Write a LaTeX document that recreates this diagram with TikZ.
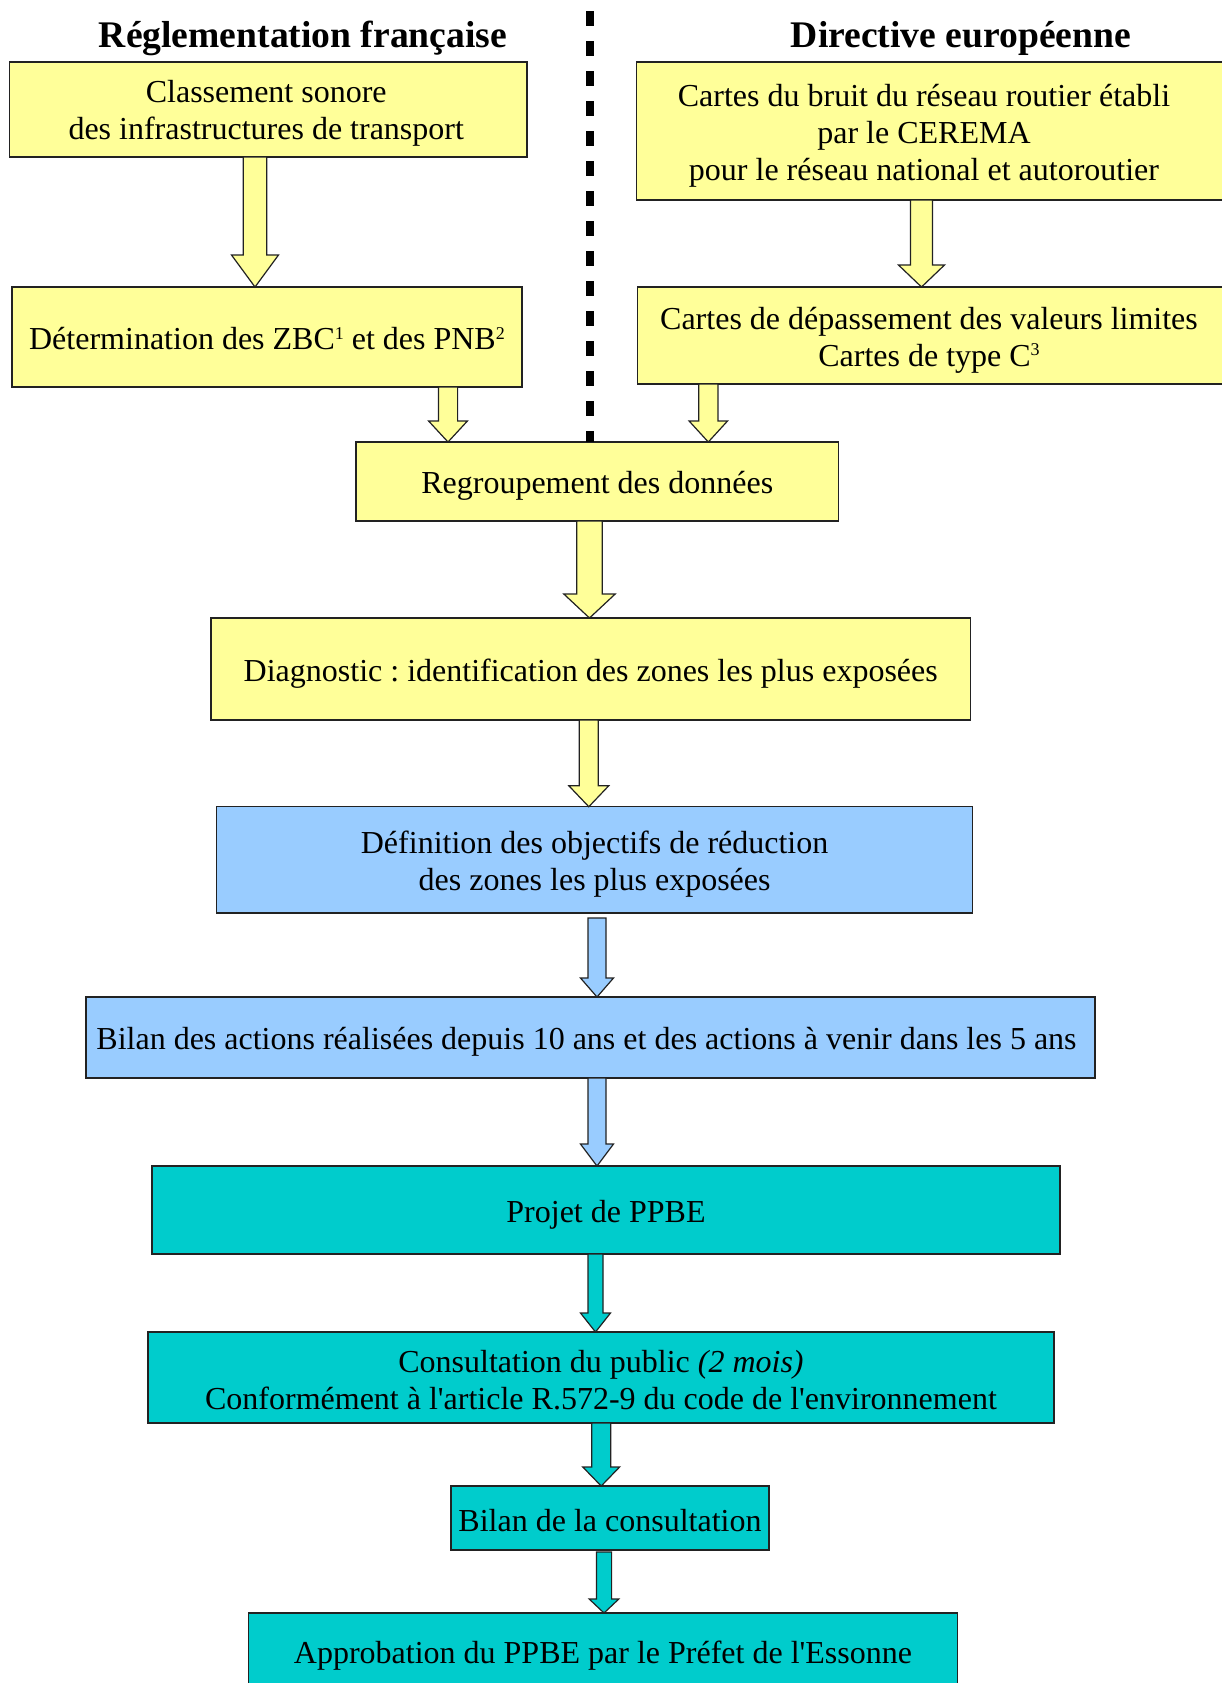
\documentclass[tikz,border=0pt]{standalone}
\usepackage{fontspec}
\setmainfont{Liberation Serif}
\usetikzlibrary{calc}
\definecolor{ylw}{HTML}{FFFF99}
\definecolor{blu}{HTML}{99CCFF}
\definecolor{tea}{HTML}{00CCCC}
\definecolor{edge}{HTML}{222222}
\newcommand\sups[1]{\raisebox{0.32em}{\fontsize{9}{9}\selectfont #1}}
\newcommand\apos{\textquotesingle}
\tikzset{
 boxbase/.style={draw=edge,line width=0.6pt,inner sep=0pt,outer sep=0pt,rectangle},
 ybox/.style={boxbase,fill=ylw},
 bbox/.style={boxbase,fill=blu},
 tbox/.style={boxbase,fill=tea},
 btxt/.style={font=\fontsize{16}{18.5}\selectfont\frenchspacing,align=center,inner sep=0pt},
 heading/.style={font=\fontsize{18.8}{22}\selectfont\bfseries,anchor=base,inner sep=0pt},
 barrow/.style={draw=edge,line width=0.6pt,line join=miter},
 sepline/.style={line width=3.85pt,dash pattern=on 7.5pt off 7.5pt}
}
% #1 fill, #2 x coordinate name, #3 from node, #4 to node, #5 shaft half width, #6 head half width, #7 head length, #8 start gap
\newcommand\blockarrow[8]{%
 \draw[barrow,fill=#1] ($(#3.south -| #2)+(-#5,#8)$) -- ($(#3.south -| #2)+(#5,#8)$)
   -- ($(#4.north -| #2)+(#5,-#7)$) -- ($(#4.north -| #2)+(#6,-#7)$) -- (#4.north -| #2)
   -- ($(#4.north -| #2)+(-#6,-#7)$) -- ($(#4.north -| #2)+(-#5,-#7)$) -- cycle;}
\begin{document}
\begin{tikzpicture}[x=0.5pt,y=-0.5pt]
\useasboundingbox (0,0) rectangle (1222,1683);
\clip (0,0) rectangle (1222,1683);
\fill[white] (0,0) rectangle (1222,1683);

% headings
\node[heading] (h1) at (303,47) {Réglementation française};
\node[heading] (h2) at (961,47) {Directive européenne};

% boxes
\node[ybox,minimum width=258.75pt,minimum height=47.5pt] (b1) at (268.25,109.5) {};
\node[ybox,minimum width=301.75pt,minimum height=69pt] (b2) at (938.25,131) {};
\node[ybox,minimum width=255pt,minimum height=50pt] (b3) at (267,337) {};
\node[ybox,minimum width=301.25pt,minimum height=48.5pt] (b4) at (938.75,335.5) {};
\node[ybox,minimum width=241.25pt,minimum height=39.5pt] (b5) at (597.25,481.5) {};
\node[ybox,minimum width=379.75pt,minimum height=51pt] (b6) at (590.75,669) {};
\node[bbox,minimum width=377.9pt,minimum height=53.15pt] (b7) at (594.6,859.85) {};
\node[bbox,minimum width=504.5pt,minimum height=40.5pt] (b8) at (590.5,1037.5) {};
\node[tbox,minimum width=454pt,minimum height=44pt] (b9) at (606,1210) {};
\node[tbox,minimum width=453pt,minimum height=45.5pt] (b10) at (601,1377.5) {};
\node[tbox,minimum width=159pt,minimum height=32pt] (b11) at (610,1518) {};
\node[tbox,minimum width=354.5pt,minimum height=43.5pt] (b12) at (603,1656.5) {};

% texts
\node[btxt] (t1) at ($(b1.center)+(-2,4)$) {Classement sonore\\des infrastructures de transport};
\node[btxt] (t2) at (924,135.5) {Cartes du bruit du réseau routier établi\\par le CEREMA\\pour le réseau national et autoroutier};
\node[btxt] (t3) at ($(b3.center)+(0,2)$) {Détermination des ZBC\sups{1} et des PNB\sups{2}};
\node[btxt] (t4) at (929,340) {Cartes de dépassement des valeurs limites\\Cartes de type C\sups{3}};
\node[btxt] (t5) at ($(b5.center)+(0,4.5)$) {Regroupement des données};
\node[btxt] (t6) at ($(b6.center)+(0,4.5)$) {Diagnostic : identification des zones les plus exposées};
\node[btxt] (t7) at ($(b7.center)+(0,4)$) {Définition des objectifs de réduction\\des zones les plus exposées};
\node[btxt] (t8) at ($(b8.center)+(-4,4.5)$) {Bilan des actions réalisées depuis 10 ans et des actions à venir dans les 5 ans};
\node[btxt] (t9) at ($(b9.center)+(0,5)$) {Projet de PPBE};
\node[btxt] (t10) at ($(b10.center)+(0,2.5)$) {Consultation du public \textit{(2 mois)}\\Conformément à l\apos article R.572-9 du code de l\apos environnement};
\node[btxt] (t11) at ($(b11.center)+(0,2.5)$) {Bilan de la consultation};
\node[btxt] (t12) at ($(b12.center)+(0,-1)$) {Approbation du PPBE par le Préfet de l\apos Essonne};

% separator
\coordinate (dtop) at (590,11);
\draw[sepline] (dtop) -- (dtop |- b5.north);

% arrow x positions
\coordinate (xa1) at (255,0);
\coordinate (xa2) at (921.5,0);
\coordinate (xa3) at (448,0);
\coordinate (xa4) at (708.3,0);
\coordinate (xa5) at (589.5,0);
\coordinate (xa6) at (588.8,0);
\coordinate (xa7) at (597,0);
\coordinate (xa9) at (595.5,0);
\coordinate (xa10) at (601.2,0);
\coordinate (xa11) at (604,0);

\blockarrow{ylw}{xa1}{b1}{b3}{11.7}{23.5}{32}{0}
\blockarrow{ylw}{xa2}{b2}{b4}{11}{23}{22}{0}
\blockarrow{ylw}{xa3}{b3}{b5}{9.6}{19.4}{21}{0}
\blockarrow{ylw}{xa4}{b4}{b5}{9.6}{19.2}{21}{0}
\blockarrow{ylw}{xa5}{b5}{b6}{12.7}{25.7}{24}{0}
\blockarrow{ylw}{xa6}{b6}{b7}{9.5}{20}{21}{0}
\blockarrow{blu}{xa7}{b7}{b8}{9}{16.5}{19}{5}
\blockarrow{blu}{xa7}{b8}{b9}{9}{16.5}{22}{0}
\blockarrow{tea}{xa9}{b9}{b10}{7.5}{15}{19}{0}
\blockarrow{tea}{xa10}{b10}{b11}{9.5}{18.4}{19}{0}
\blockarrow{tea}{xa11}{b11}{b12}{7.6}{14.8}{14}{2}
\end{tikzpicture}
\end{document}
